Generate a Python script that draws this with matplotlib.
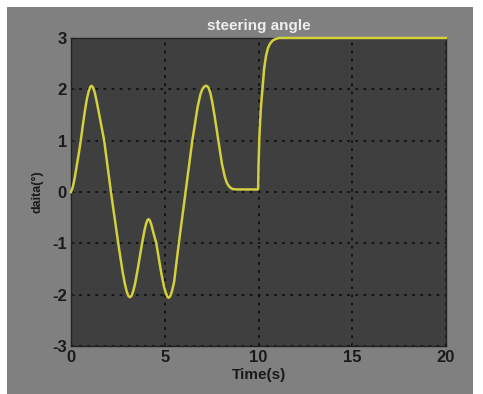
import matplotlib
matplotlib.use("Agg")
import matplotlib.pyplot as plt
from matplotlib.patches import Rectangle

# Data
time_s = [0.0, 0.1, 0.2, 0.3, 0.42, 0.52, 0.65, 0.75, 0.85, 0.95, 1.02, 1.09,
          1.17, 1.25, 1.35, 1.5, 1.77, 2.13, 2.52, 2.75, 2.88, 2.98, 3.07, 3.15,
          3.23, 3.32, 3.42, 3.55, 3.79, 3.93, 4.02, 4.09, 4.14, 4.2, 4.28, 4.4,
          4.55, 4.8, 4.95, 5.05, 5.14, 5.21, 5.29, 5.38, 5.5, 5.75, 6.11, 6.47,
          6.75, 6.9, 7.0, 7.1, 7.2, 7.27, 7.35, 7.43, 7.53, 7.65, 7.86, 8.05,
          8.2, 8.32, 8.45, 8.6, 8.8, 9.98, 10.0, 10.05, 10.12, 10.21, 10.3,
          10.4, 10.5, 10.6, 10.75, 10.9, 11.1, 20.0]
delta = [0.0, 0.1, 0.28, 0.5, 0.76, 1.0, 1.35, 1.6, 1.82, 1.97, 2.04, 2.07,
         2.04, 1.96, 1.8, 1.52, 1.0, 0.0, -1.0, -1.55, -1.8, -1.95, -2.03, -2.05,
         -2.02, -1.93, -1.78, -1.52, -1.0, -0.73, -0.6, -0.54, -0.53, -0.55, -0.63, -0.8,
         -1.0, -1.55, -1.83, -1.96, -2.04, -2.06, -2.03, -1.94, -1.75, -1.0, 0.0, 1.0,
         1.65, 1.9, 2.0, 2.05, 2.07, 2.06, 2.02, 1.93, 1.76, 1.5, 1.0, 0.55,
         0.3, 0.17, 0.1, 0.06, 0.05, 0.05, 0.5, 1.1, 1.6, 2.0, 2.4,
         2.65, 2.8, 2.88, 2.95, 2.98, 3.0, 3.0]
x_ticks = [0, 5, 10, 15, 20]
y_ticks = [-3, -2, -1, 0, 1, 2, 3]

plt.rcParams['font.family'] = ['Liberation Sans', 'DejaVu Sans']

W, H = 483, 394
fig = plt.figure(figsize=(W / 100, H / 100), dpi=100, facecolor='white')
fig.patches.append(Rectangle((7 / W, 0), (473 - 7) / W, (H - 7) / H,
                             transform=fig.transFigure, facecolor='#808080',
                             edgecolor='none', zorder=-10))

ax = fig.add_axes([71 / W, 1 - 346 / H, (446 - 71) / W, (346 - 38) / H])
ax.set_facecolor('#3f3f3f')
ax.plot(time_s, delta, color='#d2d03c', lw=1.8, clip_on=False, zorder=5,
        solid_joinstyle='round')

ax.set_xlim(0, 20)
ax.set_ylim(-3, 3)
ax.set_xticks(x_ticks)
ax.set_yticks(y_ticks)
ax.set_xticklabels([str(v) for v in x_ticks], fontsize=12, fontweight='bold', color='#1a1a1a')
ax.set_yticklabels([str(v) for v in y_ticks], fontsize=12, fontweight='bold', color='#1a1a1a')
ax.tick_params(direction='in', length=3, width=0.8, color='#222222', pad=3)
ax.grid(True, color='#111111', linestyle=(0, (1.5, 3)), linewidth=1.3)
for s in ax.spines.values():
    s.set_color('#222222')
    s.set_linewidth(1.0)

ax.set_title('steering angle', fontsize=11, fontweight='bold', color='#eeeeee', pad=6)
ax.set_xlabel('Time(s)', fontsize=11, fontweight='bold', color='#1a1a1a', labelpad=2)
ax.set_ylabel('daita(°)', fontsize=9, fontweight='bold', color='#1a1a1a', labelpad=6)

fig.savefig('out.png', dpi=100, facecolor=fig.get_facecolor())
